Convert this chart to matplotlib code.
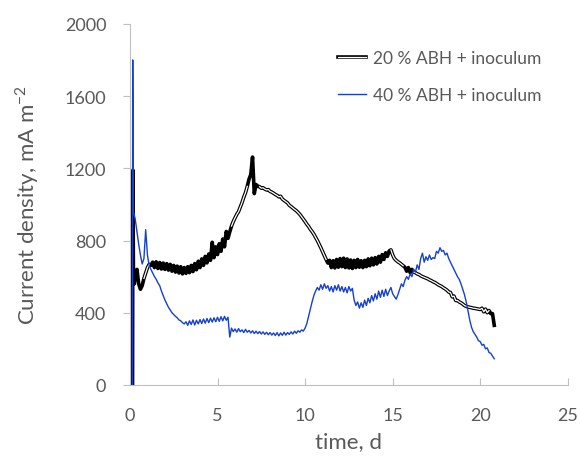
import numpy as np
import matplotlib
matplotlib.use("Agg")
from matplotlib import pyplot as plt
from matplotlib.legend_handler import HandlerTuple

plt.rcParams["font.family"] = ["Lato", "DejaVu Sans"]

# start-up spikes (time in d, current density in mA m-2)
t_start_20 = [0.15, 0.17, 0.2, 0.25]
j_start_20 = [0, 1190, 620, 560]
t_start_40 = [0.14, 0.16, 0.2, 0.25]
j_start_40 = [0, 1800, 960, 940]

# regular sampling from 0.3 d to 20.8 d
t_grid = np.round(np.arange(0.3, 20.85, 0.1), 2)

j_20 = [
    600, 640, 560, 530, 550, 590, 620, 650, 668, 662,
    680, 650, 682, 645, 678, 642, 675, 640, 672, 636,
    668, 630, 662, 625, 658, 620, 655, 615, 650, 618,
    655, 622, 662, 628, 672, 638, 685, 650, 698, 662,
    712, 676, 725, 690, 790, 705, 765, 722, 782, 740,
    808, 765, 850, 812, 848, 880, 905, 925, 945, 960,
    985, 1010, 1040, 1065, 1100, 1140, 1165, 1262, 1060, 1110,
    1100, 1098, 1090, 1092, 1085, 1080, 1082, 1072, 1068, 1062,
    1055, 1050, 1042, 1045, 1030, 1022, 1015, 1008, 995, 988,
    980, 972, 965, 955, 945, 932, 920, 905, 890, 878,
    862, 850, 835, 818, 800, 780, 760, 738, 715, 695,
    675, 690, 650, 688, 648, 695, 652, 700, 655, 702,
    650, 698, 648, 692, 645, 690, 650, 695, 652, 688,
    650, 690, 655, 698, 660, 702, 665, 705, 670, 712,
    680, 722, 695, 732, 712, 742, 748, 720, 700, 690,
    682, 676, 668, 660, 652, 630, 650, 622, 640, 625,
    622, 615, 612, 605, 600, 596, 592, 588, 582, 578,
    572, 568, 562, 555, 550, 545, 538, 532, 525, 515,
    512, 488, 492, 468, 468, 460, 455, 448, 440, 435,
    432, 430, 428, 425, 424, 422, 420, 418, 425, 405,
    420, 400, 412, 395, 395, 330,
]

j_40 = [
    920, 850, 780, 720, 670, 700, 860, 720, 660, 640,
    620, 600, 585, 565, 550, 520, 495, 470, 450, 430,
    415, 400, 390, 380, 372, 360, 355, 345, 338, 350,
    330, 355, 335, 360, 332, 358, 338, 362, 340, 365,
    342, 368, 345, 370, 348, 372, 350, 375, 352, 378,
    355, 380, 358, 375, 265, 315, 295, 310, 292, 312,
    295, 305, 290, 308, 292, 302, 288, 300, 285, 298,
    284, 296, 282, 294, 280, 292, 278, 290, 276, 288,
    274, 290, 272, 288, 275, 292, 276, 290, 280, 294,
    282, 298, 286, 300, 292, 305, 298, 315, 340, 380,
    420, 460, 495, 520, 540, 525, 555, 530, 560, 535,
    550, 520, 545, 515, 550, 525, 555, 520, 545, 515,
    540, 510, 545, 520, 535, 470, 440, 460, 425, 455,
    430, 470, 440, 480, 455, 495, 465, 505, 475, 520,
    485, 525, 490, 530, 495, 520, 540, 505, 490, 475,
    500, 530, 560, 545, 580, 600, 585, 615, 600, 640,
    625, 665, 640, 700, 730, 680, 710, 690, 720, 695,
    705, 700, 740, 730, 760, 740, 745, 720, 730, 700,
    680, 660, 640, 620, 600, 585, 560, 530, 500, 460,
    410, 360, 320, 295, 280, 265, 245, 240, 220, 225,
    200, 205, 180, 175, 160, 145,
]

t20 = np.concatenate([t_start_20, t_grid])
c20 = np.concatenate([j_start_20, j_20]).astype(float)
t40 = np.concatenate([t_start_40, t_grid])
c40 = np.concatenate([j_start_40, j_40])

# Excel's double line fills in solid where the signal jitters,
# so the white core is left out where the curvature is large
core = c20.copy()
d2 = np.zeros_like(c20)
d2[1:-1] = np.abs(c20[2:] - 2 * c20[1:-1] + c20[:-2])
busy = d2 > 40
busy[1:] |= busy[:-1]
busy[:-1] |= busy[1:]
core[busy] = np.nan

grey = "#595959"
blue = "#1540d0"

fig = plt.figure(figsize=(5.8, 4.6), dpi=100)
ax = fig.add_axes([0.224, 0.161, 0.755, 0.785])

outer, = ax.plot(t20, c20, color="black", lw=2.6, solid_joinstyle="round")
inner, = ax.plot(t20, core, color="white", lw=0.9, solid_joinstyle="round")
bl, = ax.plot(t40, c40, color=blue, lw=1.0)

ax.set_xlim(0, 25)
ax.set_ylim(0, 2000)
ax.set_xticks([0, 5, 10, 15, 20, 25])
ax.set_yticks([0, 400, 800, 1200, 1600, 2000])

for s in ["top", "right"]:
    ax.spines[s].set_visible(False)
ax.spines["left"].set_color("#bfbfbf")
ax.spines["bottom"].set_color("#bfbfbf")
ax.tick_params(axis="x", direction="in", length=5, color="#bfbfbf",
               labelsize=13, labelcolor=grey, pad=16)
ax.tick_params(axis="y", direction="out", length=5, color="#bfbfbf",
               labelsize=13, labelcolor=grey, pad=12)

ax.set_xlabel("time, d", fontsize=16, color=grey, labelpad=6)
ax.set_ylabel("Current density, mA m$^{\\mathregular{-2}}$", fontsize=16,
              color=grey, labelpad=17)

leg = ax.legend([(outer, inner), bl],
                ["20 % ABH + inoculum", "40 % ABH + inoculum"],
                handler_map={tuple: HandlerTuple(ndivide=1, pad=0)},
                loc="upper right", bbox_to_anchor=(0.975, 0.97),
                frameon=False, fontsize=12.5, labelspacing=1.2,
                handlelength=1.6, handletextpad=0.4)
for txt in leg.get_texts():
    txt.set_color(grey)

fig.savefig("out.png", dpi=100)
